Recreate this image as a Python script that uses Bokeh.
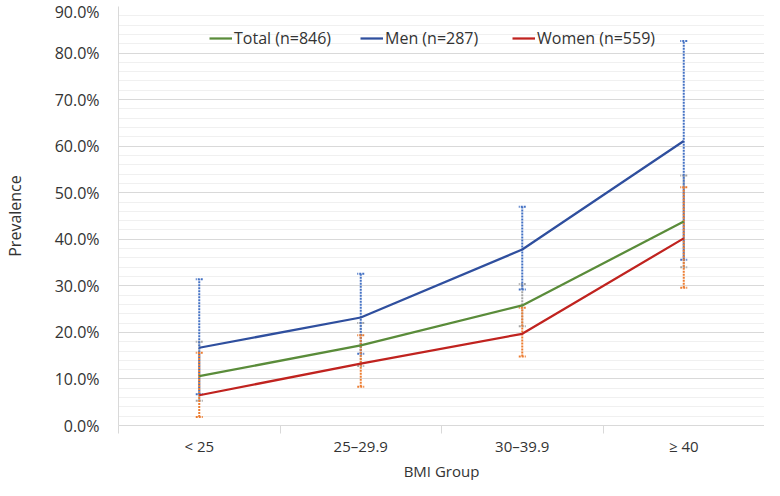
from bokeh.plotting import figure
from bokeh.models import (Range1d, FixedTicker, NumeralTickFormatter, ColumnDataSource,
                          Whisker, TeeHead, Legend, LegendItem, Title)
from bokeh.embed import file_html
from bokeh.resources import INLINE

# ---- data ----
groups = ["< 25", "25\u201329.9", "30\u201339.9", "\u2265 40"]
total = [0.106, 0.172, 0.258, 0.438]
men = [0.167, 0.232, 0.378, 0.611]
women = [0.065, 0.133, 0.197, 0.402]
total_lo = [0.053, 0.128, 0.213, 0.340]
total_hi = [0.180, 0.220, 0.304, 0.537]
men_lo = [0.067, 0.154, 0.292, 0.356]
men_hi = [0.314, 0.326, 0.470, 0.826]
women_lo = [0.018, 0.083, 0.148, 0.296]
women_hi = [0.156, 0.194, 0.253, 0.512]
series_labels = ["Total (n=846)", "Men (n=287)", "Women (n=559)"]
x_title = "BMI Group"
y_title = "Prevalence"
y_ticks = [i / 10 for i in range(10)]
y_minor = [i / 50 for i in range(46) if i % 5 != 0]

xs = [i + 0.5 for i in range(len(groups))]
bounds = list(range(len(groups) + 1))

FONT = "Open Sans"
TXT = "#333333"

p = figure(width=764, height=480, output_backend="svg", toolbar_location=None,
           x_range=Range1d(0, len(groups)), y_range=Range1d(0, 0.9),
           min_border_left=108, min_border_right=0, min_border_top=6, min_border_bottom=30)
p.outline_line_color = None
p.background_fill_color = "white"
p.border_fill_color = "white"

# grid
p.xgrid.visible = False
yt = FixedTicker(ticks=y_ticks, minor_ticks=y_minor)
p.ygrid.ticker = yt
p.ygrid.grid_line_color = "#D9D9D9"
p.ygrid.minor_grid_line_color = "#F0F0F0"

# y axis
ya = p.yaxis[0]
ya.ticker = yt
ya.formatter = NumeralTickFormatter(format="0.0%")
ya.axis_line_color = "#D9D9D9"
ya.major_tick_line_color = None
ya.minor_tick_line_color = None
ya.major_tick_out = 0
ya.minor_tick_out = 0
ya.major_label_standoff = 19
ya.major_label_text_font = FONT
ya.major_label_text_font_size = "16px"
ya.major_label_text_color = TXT
ya.axis_label = y_title
ya.axis_label_text_font = FONT
ya.axis_label_text_font_size = "16px"
ya.axis_label_text_font_style = "normal"
ya.axis_label_text_color = TXT
ya.axis_label_standoff = 26

# x axis
xa = p.xaxis[0]
xa.ticker = FixedTicker(ticks=xs, minor_ticks=bounds)
xa.major_label_overrides = {x: g for x, g in zip(xs, groups)}
xa.axis_line_color = "#D9D9D9"
xa.major_tick_line_color = None
xa.major_tick_out = 0
xa.minor_tick_line_color = "#D9D9D9"
xa.minor_tick_in = 0
xa.minor_tick_out = 8
xa.major_label_standoff = 2
xa.major_label_text_font = FONT
xa.major_label_text_font_size = "15px"
xa.major_label_text_color = TXT

# x-axis title as a title below the axis
p.add_layout(Title(text=x_title, align="center", text_font=FONT, text_font_size="15px",
                   text_font_style="normal", text_color=TXT, standoff=0, offset=0), "below")

# error bars (total under men under women)
def add_err(lo, hi, color):
    src = ColumnDataSource(dict(x=xs, lo=lo, hi=hi))
    w = Whisker(source=src, base="x", upper="hi", lower="lo", dimension="height",
                line_color=color, line_width=2, line_dash="2 1",
                upper_head=TeeHead(size=7, line_color=color, line_width=2, line_dash="2 1"),
                lower_head=TeeHead(size=7, line_color=color, line_width=2, line_dash="2 1"))
    p.add_layout(w)

add_err(total_lo, total_hi, "#A5A5A5")
add_err(men_lo, men_hi, "#4472C4")
add_err(women_lo, women_hi, "#ED7D31")

r_total = p.line(xs, total, line_color="#5A8C3A", line_width=2.25)
r_men = p.line(xs, men, line_color="#2F4F9E", line_width=2.25)
r_women = p.line(xs, women, line_color="#C0231F", line_width=2.25)

# one legend per entry so each sits where the reference has it
for lab, r, lx in zip(series_labels, [r_total, r_men, r_women], [91, 242, 394]):
    lg = Legend(items=[LegendItem(label=lab, renderers=[r])],
                orientation="horizontal", location=(lx, 376),
                padding=0, margin=0, glyph_width=23, label_standoff=2,
                label_text_font=FONT, label_text_font_size="16px", label_text_color=TXT,
                background_fill_alpha=0, border_line_alpha=0)
    p.add_layout(lg)

open("out.html", "w").write(file_html(p, INLINE))
